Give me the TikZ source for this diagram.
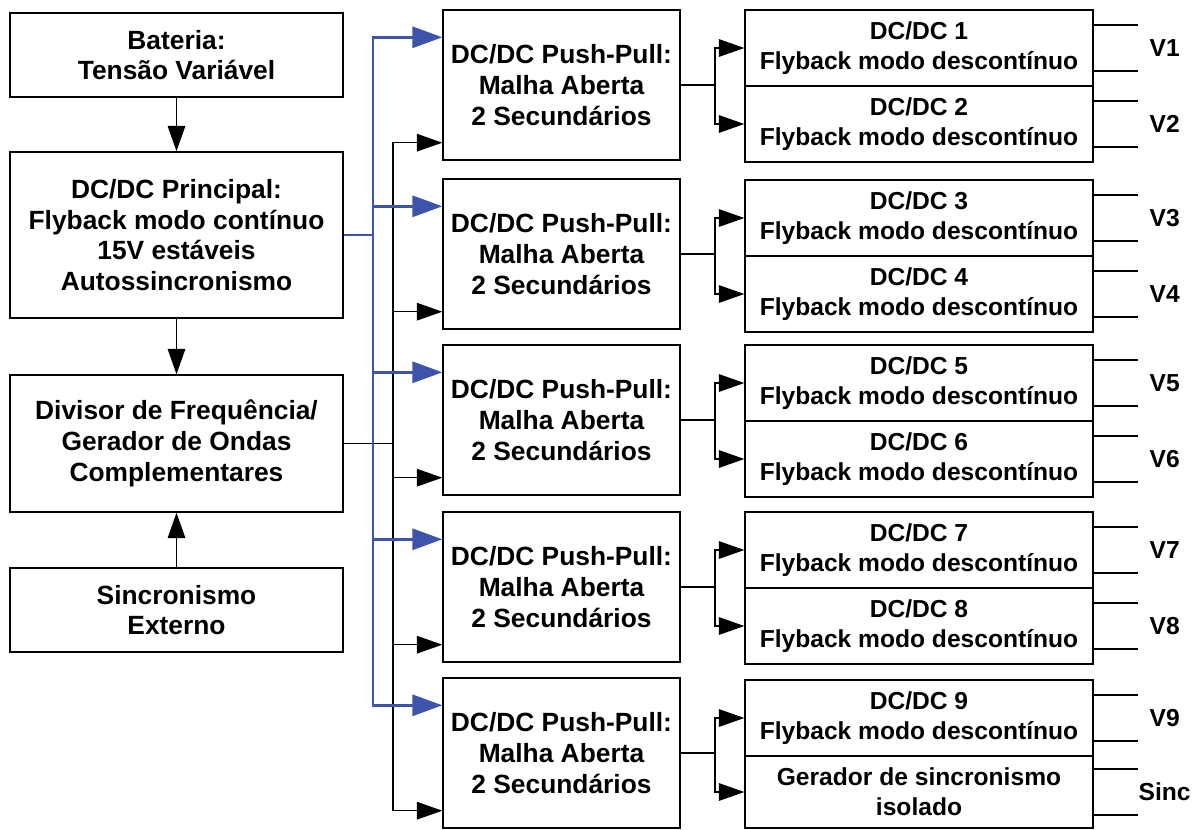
\documentclass[tikz,border=0pt]{standalone}
\usepackage{fontspec}
\setmainfont{Liberation Sans}
\usepackage{tikz}
\usetikzlibrary{arrows.meta}
\definecolor{linkblue}{RGB}{61,84,170}

\begin{document}
\begin{tikzpicture}[x=0.02cm, y=-0.02cm,
    blk/.style={draw, line width=0.8pt, align=center, inner sep=2pt},
    leftbox/.style={blk, minimum width=6.66cm, font=\bfseries\fontsize{15}{17.5}\selectfont},
    ppbox/.style={blk, minimum width=4.74cm, minimum height=3cm, font=\bfseries\fontsize{15}{17.5}\selectfont},
    flybox/.style={blk, minimum width=6.96cm, minimum height=1.52cm, font=\bfseries\fontsize{14}{17}\selectfont},
    outlbl/.style={font=\bfseries\fontsize{14}{16}\selectfont},
    arr/.style={line width=0.7pt, -{Triangle[length=14.5pt,width=10pt]}},
    bluearr/.style={draw=linkblue, line width=1.5pt, -{Triangle[length=17pt,width=12pt]}}]
        \useasboundingbox (0,0) rectangle (1197,829);
        \node[leftbox, minimum height=1.68cm] (bat) at (176.5,55) {Bateria:\\Tensão Variável};
        \node[leftbox, minimum height=3.32cm] (princ) at (176.5,235) {DC/DC Principal:\\Flyback modo contínuo\\15V estáveis\\Autossincronismo};
        \node[leftbox, minimum height=2.74cm] (div) at (176.5,443.5) {Divisor de Frequência/\\Gerador de Ondas\\Complementares};
        \node[leftbox, minimum height=1.68cm] (sinc) at (176.5,610) {Sincronismo\\Externo};
        \foreach \i/\y in {1/85,2/254,3/420,4/587,5/753}
          \node[ppbox] (pp\i) at (561.5,\y) {DC/DC Push-Pull:\\Malha Aberta\\2 Secundários};
        \foreach \i/\y in {1/48,2/124,3/218,4/294,5/383,6/459,7/550,8/626,9/718}
          \node[flybox] (fly\i) at (919,\y) {DC/DC \i\\Flyback modo descontínuo};
        \node[flybox, minimum height=1.44cm] (gen) at (919,792) {Gerador de sincronismo\\isolado};
        \coordinate (bt) at (373,0);
        \coordinate (kt) at (393,0);
        \coordinate (br) at (715,0);
        \draw[arr] (bat) -- (princ);
        \draw[arr] (princ) -- (div);
        \draw[arr] (sinc) -- (div);
        \foreach \i in {1,...,5} {
          \coordinate (blu\i) at ([yshift=-0.56cm]pp\i.north west);
          \coordinate (blk\i) at ([yshift=0.36cm]pp\i.south west);
          \draw[arr] (div.east) -- (div.east -| kt) |- (blk\i);
        }
        \foreach \i in {1,...,5}
          \draw[bluearr] (princ.east) -- (princ.east -| bt) |- (blu\i);
        \foreach \i/\a/\b in {1/fly1/fly2,2/fly3/fly4,3/fly5/fly6,4/fly7/fly8,5/fly9/gen} {
          \draw[arr] (pp\i.east) -- (pp\i.east -| br) |- (\a.west);
          \draw[arr] (pp\i.east -| br) |- (\b.west);
        }
        \foreach \n/\t in {fly1/V1,fly2/V2,fly3/V3,fly4/V4,fly5/V5,fly6/V6,fly7/V7,fly8/V8,fly9/V9,gen/Sinc} {
          \draw[line width=0.7pt] ([yshift=0.46cm]\n.east) -- ++(0.88cm,0);
          \draw[line width=0.7pt] ([yshift=-0.46cm]\n.east) -- ++(0.88cm,0);
          \node[outlbl, xshift=1.42cm] (lbl\n) at (\n.east) {\t};
        }
      \end{tikzpicture}
\end{document}
